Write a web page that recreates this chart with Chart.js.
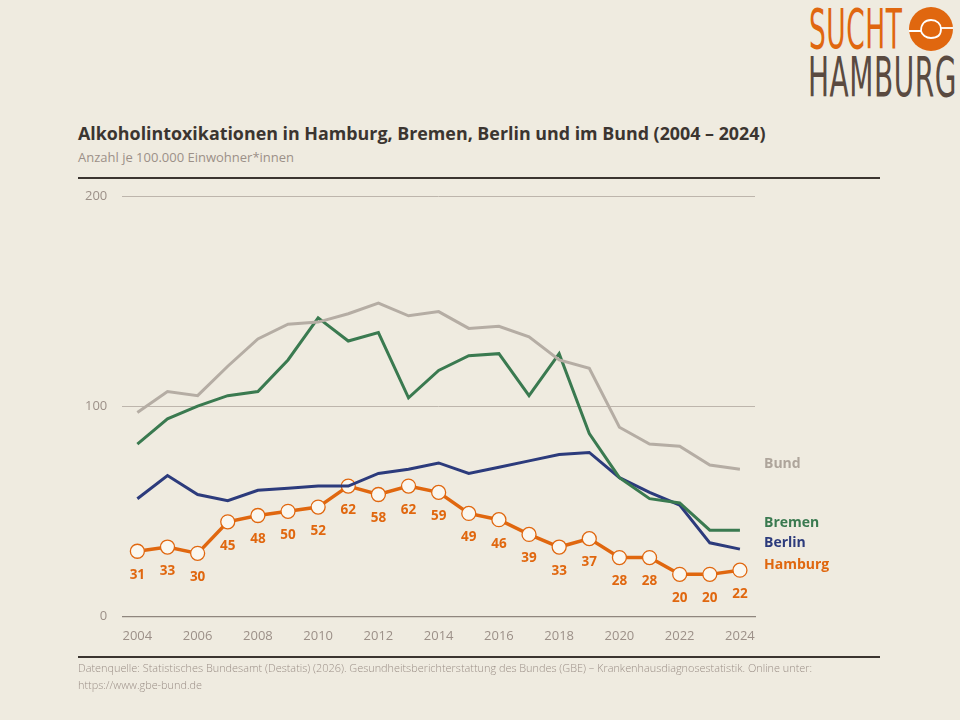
<!DOCTYPE html>
<html>
<head>
<meta charset="utf-8">
<script src="https://cdn.jsdelivr.net/npm/chart.js@4.4.1/dist/chart.umd.min.js"></script>
<style>
  html, body { margin: 0; padding: 0; background: #efebe0; }
  body { width: 960px; height: 720px; position: relative; overflow: hidden; font-family: "Open Sans", sans-serif; }
  .logo { position: absolute; left: 808px; top: 0; width: 150px; height: 108px; }
  .logo .sucht { position: absolute; left: 1px; top: 2px; font-family: "DejaVu Sans Condensed", "Liberation Sans Narrow", sans-serif; font-weight: 300; font-size: 55px; color: #e0670f; letter-spacing: 1px; transform: scaleX(0.535); transform-origin: left top; line-height: 55px; }
  .logo .hamburg { position: absolute; left: 0; top: 50px; font-family: "DejaVu Sans Condensed", "Liberation Sans Narrow", sans-serif; font-weight: 300; font-size: 55px; color: #5a4a40; letter-spacing: 1px; transform: scaleX(0.565); transform-origin: left top; line-height: 55px; }
  .logo svg { position: absolute; left: 100px; top: 6px; }
  .title { position: absolute; left: 78px; top: 121px; font-weight: 700; font-size: 17.85px; color: #3b3530; }
  .subtitle { position: absolute; left: 78px; top: 148px; font-size: 13px; color: #9c9088; }
  .rule { position: absolute; left: 78px; width: 802px; background: #3b3530; }
  .foot { position: absolute; left: 78px; top: 659px; font-size: 10.9px; line-height: 17px; color: #9c9088; font-weight: 300; }
  .wrap { position: absolute; left: 0; top: 170px; width: 960px; height: 490px; }
</style>
</head>
<body>
<div class="logo">
  <div class="sucht">SUCHT</div>
  <svg width="46" height="46" viewBox="0 0 46 46">
    <circle cx="23" cy="23" r="22" fill="#e0670f"/>
    <path d="M1 25 H13 C13 18 17 14 23 14 C29 14 33 18 33 23 C33 29 29 32 23 32 C18 32 14 29 13 25" fill="none" stroke="#fff" stroke-width="1.8"/>
    <path d="M33 22 H45" stroke="#fff" stroke-width="1.8"/>
  </svg>
  <div class="hamburg">HAMBURG</div>
</div>
<div class="title">Alkoholintoxikationen in Hamburg, Bremen, Berlin und im Bund (2004 – 2024)</div>
<div class="subtitle">Anzahl je 100.000 Einwohner*innen</div>
<div class="rule" style="top:177px;height:2px"></div>
<div class="wrap"><canvas id="myChart" width="960" height="490"></canvas></div>
<div class="rule" style="top:656px;height:1.5px"></div>
<div class="foot">Datenquelle: Statistisches Bundesamt (Destatis) (2026). Gesundheitsberichterstattung des Bundes (GBE) – Krankenhausdiagnosestatistik. Online unter:<br>https://www.gbe-bund.de</div>

<script>
  const years = ['2004','2005','2006','2007','2008','2009','2010','2011','2012','2013','2014',
                 '2015','2016','2017','2018','2019','2020','2021','2022','2023','2024'];
  const bund    = [97, 107, 105, 119, 132, 139, 140, 144, 149, 143, 145, 137, 138, 133, 122, 118, 90, 82, 81, 72, 70];
  const bremen  = [82, 94, 100, 105, 107, 122, 142, 131, 135, 104, 117, 124, 125, 105, 125, 87, 66, 56, 54, 41, 41];
  const berlin  = [56, 67, 58, 55, 60, 61, 62, 62, 68, 70, 73, 68, 71, 74, 77, 78, 66, 59, 53, 35, 32];
  const hamburg = [31, 33, 30, 45, 48, 50, 52, 62, 58, 62, 59, 49, 46, 39, 33, 37, 28, 28, 20, 20, 22];
  const yTicks  = [0, 100, 200];

  const seriesLabels = [
    { text: 'Bund', color: '#aea59b', at: 72.5 },
    { text: 'Bremen', color: '#3a7a50', at: 44.5 },
    { text: 'Berlin', color: '#2c3b7c', at: 35 },
    { text: 'Hamburg', color: '#e0670f', at: 24.5 }
  ];

  const labelPlugin = {
    id: 'labels',
    afterDatasetsDraw(chart) {
      const ctx = chart.ctx;
      const y = chart.scales.y;
      const meta = chart.getDatasetMeta(3);
      ctx.save();
      ctx.font = 'bold 13.5px "Open Sans"';
      ctx.fillStyle = '#e0670f';
      ctx.textAlign = 'center';
      ctx.textBaseline = 'middle';
      meta.data.forEach((pt, i) => {
        ctx.fillText(hamburg[i], pt.x, pt.y + 24);
      });
      ctx.font = 'bold 14px "Open Sans"';
      ctx.textAlign = 'left';
      seriesLabels.forEach(l => {
        ctx.fillStyle = l.color;
        ctx.fillText(l.text, chart.chartArea.right + 9, y.getPixelForValue(l.at));
      });
      ctx.restore();
    }
  };

  const ctx = document.getElementById('myChart').getContext('2d');
  const myChart = new Chart(ctx, {
    type: 'line',
    data: {
      labels: years,
      datasets: [
        { label: 'Bund', data: bund, borderColor: '#b5ada4', borderWidth: 3, pointRadius: 0, tension: 0 },
        { label: 'Bremen', data: bremen, borderColor: '#3a7a50', borderWidth: 3, pointRadius: 0, tension: 0 },
        { label: 'Berlin', data: berlin, borderColor: '#2c3b7c', borderWidth: 3, pointRadius: 0, tension: 0 },
        { label: 'Hamburg', data: hamburg, borderColor: '#e0670f', borderWidth: 3.5, tension: 0,
          pointRadius: 7, pointBackgroundColor: '#faf7ef', pointBorderColor: '#e0670f', pointBorderWidth: 1.3 }
      ]
    },
    options: {
      responsive: false,
      animation: false,
      layout: { padding: { left: 70, right: 205, top: 26, bottom: 4 } },
      plugins: { legend: { display: false }, tooltip: { enabled: false } },
      scales: {
        x: {
          offset: true,
          grid: { display: false, drawTicks: false },
          border: { color: '#8f867e', width: 1.3 },
          ticks: {
            autoSkip: false, maxRotation: 0, padding: 12,
            color: '#9c9088', font: { family: 'Open Sans', size: 13 },
            callback: function (v, i) { return i % 2 === 0 ? years[i] : ''; }
          }
        },
        y: {
          min: 0, max: 200,
          afterBuildTicks: s => { s.ticks = yTicks.map(v => ({ value: v })); },
          grid: { color: '#bdb5ac', lineWidth: 1, drawTicks: false },
          border: { display: false },
          ticks: { padding: 15, color: '#9c9088', font: { family: 'Open Sans', size: 13 } }
        }
      }
    },
    plugins: [labelPlugin]
  });
</script>
</body>
</html>
